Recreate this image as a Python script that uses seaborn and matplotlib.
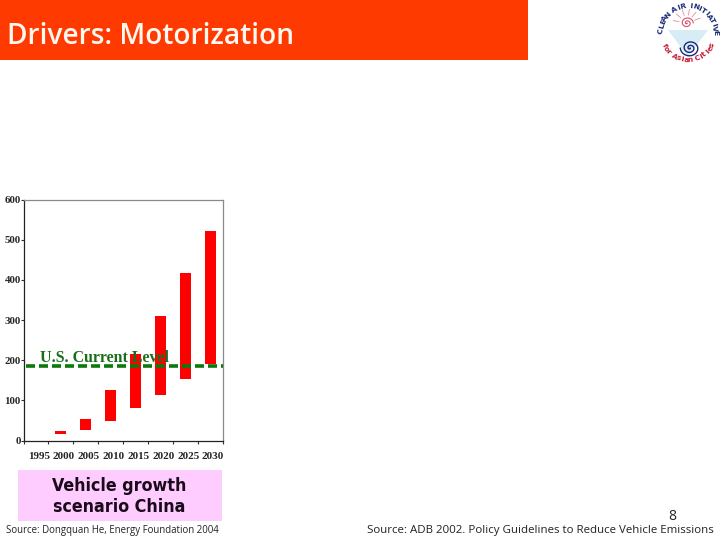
import numpy as np
import matplotlib as mpl
mpl.use("Agg")
import matplotlib.pyplot as plt
from matplotlib.patches import Rectangle, Polygon
import seaborn as sns

years = ["1995", "2000", "2005", "2010", "2015", "2020", "2025", "2030"]
low_values = [0, 16, 27, 49, 81, 114, 154, 190]
high_values = [0, 24, 53, 125, 216, 310, 417, 521]
us_level = 186
y_ticks = [0, 100, 200, 300, 400, 500, 600]

W, H = 720, 540
SERIF = "Liberation Serif"


def box(x0, y0, x1, y1):
    # pixel box (top-left origin) to figure fractions
    return [x0 / W, 1 - y1 / H, (x1 - x0) / W, (y1 - y0) / H]


sns.set_style("white")
fig = plt.figure(figsize=(7.2, 5.4), dpi=100)

# header band
fig.patches.append(Rectangle((0, 1 - 60 / H), 528 / W, 60 / H, transform=fig.transFigure,
                             color="#ff3a00", lw=0))
fig.text(7 / W, 1 - 36 / H, "Drivers: Motorization", color="#fff8f0", fontsize=20.2,
         family="Open Sans", fontweight="semibold", va="center", ha="left")

# chart
ax = fig.add_axes(box(23.5, 199.5, 222.5, 440.5))
heights = np.array(high_values) - np.array(low_values)
sns.barplot(x=years, y=heights, bottom=low_values, color="#ff0000", saturation=1,
            width=0.44, linewidth=0, ax=ax, zorder=2)
ax.set_xlim(-0.5, 7.5)
ax.set_ylim(0, 600)
ax.axhline(us_level, xmin=0.012, xmax=1, color="#0b7a0b", lw=2.6, ls=(0, (2.5, 1.1)), zorder=3)
ax.text(0.085, 196, "U.S. Current Level", transform=ax.get_yaxis_transform(), color="#1a6e1a",
        fontsize=11.4, family=SERIF, fontweight="bold", va="baseline", ha="left", zorder=4)

ax.set_yticks(y_ticks)
ax.set_yticklabels([str(v) for v in y_ticks], family=SERIF, fontsize=7.8, fontweight="bold")
ax.set_xticks(np.arange(-0.5, 8, 1), minor=False)
ax.set_xticklabels([""] * 9)
ax.set_xticks(np.arange(0.12, 8, 1), labels=years, minor=True, family=SERIF, fontsize=8,
              fontweight="bold")
ax.tick_params(axis="x", which="major", length=2, width=0.8, color="#333333", bottom=True)
ax.tick_params(axis="x", which="minor", length=0, pad=8)
ax.tick_params(axis="y", length=2, width=0.8, color="#333333", left=True, pad=0)
ax.set_xlabel("")
ax.set_ylabel("")
for side, spine in ax.spines.items():
    spine.set_visible(True)
    spine.set_linewidth(0.9)
    spine.set_color("#222222" if side in ("left", "bottom") else "#8a8a8a")

# caption box and sources
fig.patches.append(Rectangle((18 / W, 1 - 521 / H), 204 / W, 51 / H, transform=fig.transFigure,
                             color="#ffccff", lw=0))
fig.text(119 / W, 1 - 486 / H, "Vehicle growth", fontsize=12.8, fontweight="bold",
         family="DejaVu Sans", stretch="condensed", color="#1a0a1a", ha="center", va="center")
fig.text(119 / W, 1 - 507.5 / H, "scenario China", fontsize=12.8, fontweight="bold",
         family="DejaVu Sans", stretch="condensed", color="#1a0a1a", ha="center", va="center")
fig.text(6 / W, 1 - 531 / H, "Source: Dongquan He, Energy Foundation 2004", fontsize=6.95,
         family="Open Sans", color="#222222", ha="left", va="center")
fig.text(367 / W, 1 - 530 / H, "Source: ADB 2002. Policy Guidelines to Reduce Vehicle Emissions",
         fontsize=8.27, family="Open Sans", color="#222222", ha="left", va="center")
fig.text(672.5 / W, 1 - 516 / H, "8", fontsize=10, family="Open Sans", color="#222222",
         ha="center", va="center")

# logo, sketched in pixel space
logo = fig.add_axes([0, 0, 1, 1], zorder=5)
logo.set_xlim(0, W)
logo.set_ylim(H, 0)
logo.axis("off")
logo.patch.set_alpha(0)
logo.add_patch(Polygon([[668, 30], [708, 30], [688, 57]], color="#d8ecf6", lw=0))
for word, a0, a1, r, col in [("CLEAN AIR INITIATIVE", 175, 0, 27, "#1c2a78"),
                             ("for Asian Cities", 207, 333, 27, "#c81e3c")]:
    angles = np.radians(np.linspace(a0, a1, len(word)))
    for ch, a in zip(word, angles):
        rot = np.degrees(a) - 90 if a0 > a1 else np.degrees(a) + 90
        logo.text(688 + r * np.cos(a), 33 - r * np.sin(a), ch, fontsize=5.4, fontweight="bold",
                  color=col, ha="center", va="center", rotation=rot)
t = np.linspace(0, 4 * np.pi, 150)
logo.plot(687 + t * 0.5 * np.cos(t), 23 + t * 0.45 * np.sin(t), color="#d9506a", lw=0.8)
for a in np.radians(np.arange(20, 200, 30)):
    logo.plot([687 + 8 * np.cos(a), 687 + 14 * np.cos(a)],
              [23 - 8 * np.sin(a), 23 - 14 * np.sin(a)], color="#e58a9a", lw=0.6)
t = np.linspace(0, 5 * np.pi, 150)
logo.plot(690 + t * 0.62 * np.cos(t), 48 + t * 0.55 * np.sin(t), color="#1c2a78", lw=1.0)

fig.savefig("out.png", dpi=100)
